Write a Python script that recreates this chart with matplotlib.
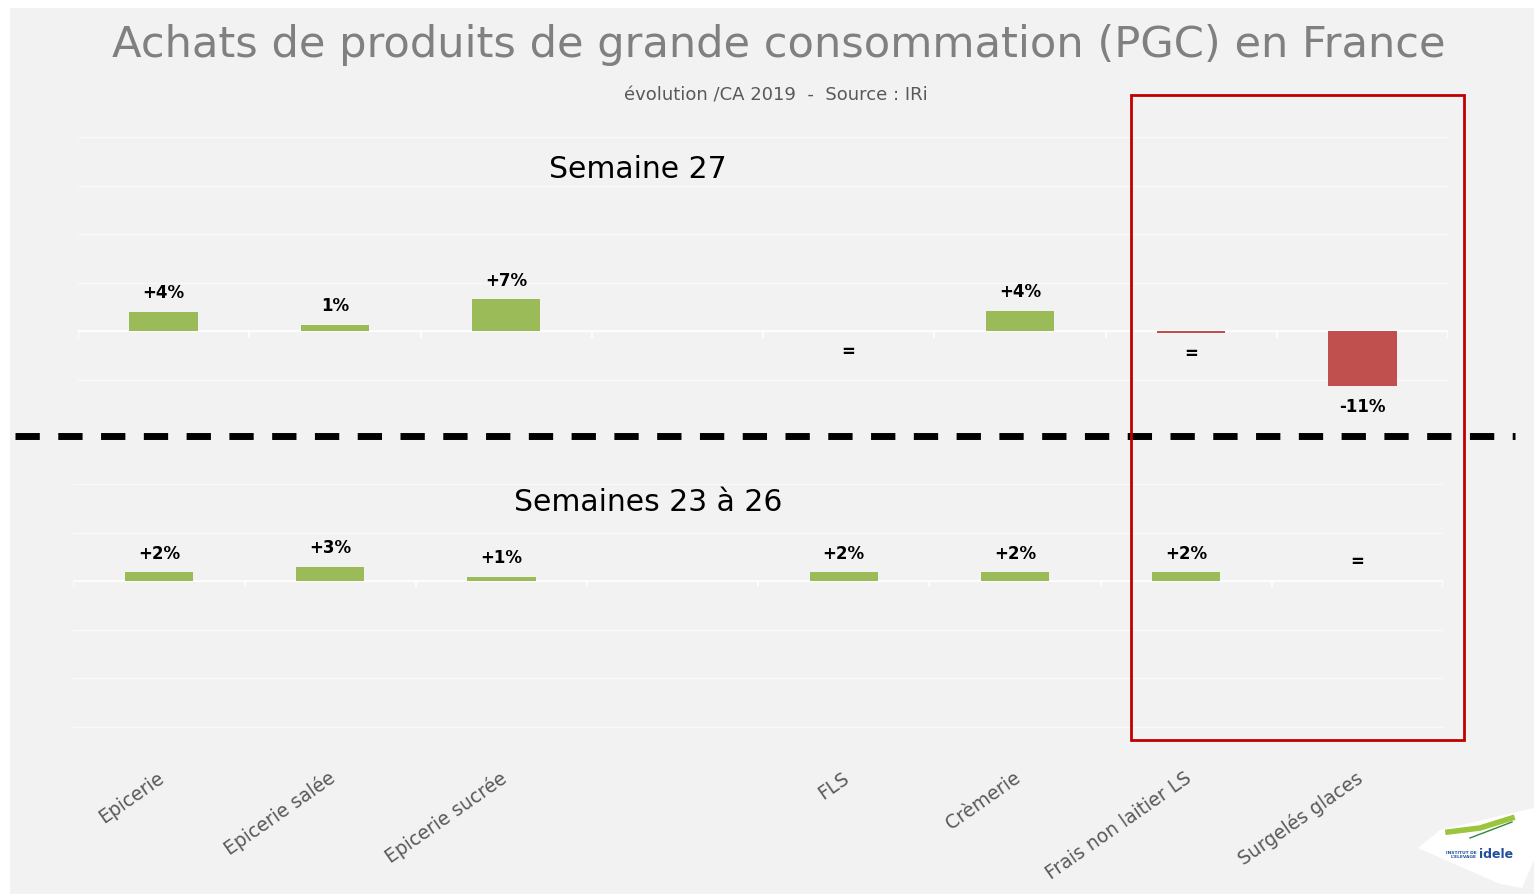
import matplotlib
matplotlib.use('Agg')
import matplotlib.pyplot as plt
import matplotlib.transforms as mtransforms
from matplotlib.patches import Rectangle, Polygon
from matplotlib.lines import Line2D
import numpy as np

W, H = 1534, 894

# data
categories = ['Epicerie', 'Epicerie salée', 'Epicerie sucrée', '', 'FLS',
              'Crèmerie', 'Frais non laitier LS', 'Surgelés glaces']
week27 = [4.0, 1.4, 6.6, np.nan, 0.0, 4.2, -0.3, -11.2]
week27_labels = ['+4%', '1%', '+7%', '', '=', '+4%', '=', '-11%']
weeks23_26 = [1.8, 2.9, 0.9, np.nan, 1.8, 1.8, 1.8, 0.0]
weeks23_26_labels = ['+2%', '+3%', '+1%', '', '+2%', '+2%', '+2%', '=']

GREEN = '#9bbb59'
RED = '#c0504d'
BG = '#f2f2f2'


def fx(x):
    return x / W


def fy(y):
    return 1 - y / H


fig = plt.figure(figsize=(W / 100, H / 100), dpi=100, facecolor='white')
fig.add_artist(Rectangle((fx(10), 0), 1, fy(8), transform=fig.transFigure,
                         facecolor=BG, edgecolor='none', zorder=-10))


def draw_panel(ax, values, labels, ylim, yticks, title, title_xy, zero_below):
    ax.set_facecolor('none')
    for s in ax.spines.values():
        s.set_visible(False)
    x = np.arange(len(values))
    vals = np.array(values, dtype=float)
    ok = ~np.isnan(vals) & (vals != 0)
    colors = [GREEN if v > 0 else RED for v in vals[ok]]
    ax.bar(x[ok], vals[ok], width=0.4, color=colors, zorder=3)
    ax.set_xlim(-0.5, len(values) - 0.5)
    ax.set_ylim(*ylim)
    ax.set_yticks(yticks)
    ax.yaxis.grid(True, color='white', lw=1, alpha=0.55)
    ax.set_axisbelow(True)
    ax.tick_params(left=False, bottom=False, labelleft=False, labelbottom=False)
    ax.axhline(0, color='white', lw=1.3, alpha=0.9, zorder=2)
    ax.vlines(np.arange(len(values) + 1) - 0.5, 0, -1.3, color='white', lw=1.2, zorder=2)
    for xi, v, lab in zip(x, vals, labels):
        if not lab:
            continue
        below = v < 0 or (v == 0 and zero_below)
        off = -15 if below else 13.5
        ax.annotate(lab, (xi, v), xytext=(0, off), textcoords='offset points',
                    ha='center', va='center', fontsize=12, fontweight='bold',
                    color='black', zorder=4)
    fig.text(fx(title_xy[0]), fy(title_xy[1]), title, fontsize=21.5,
             ha='center', va='center', color='black')


ax1 = fig.add_axes([fx(78), fy(428.6), fx(1448) - fx(78), (428.6 - 137) / H])
draw_panel(ax1, week27, week27_labels, (-20, 40), range(-10, 41, 10),
           'Semaine 27', (638, 170), True)

ax2 = fig.add_axes([fx(73.4), fy(729.1), fx(1443) - fx(73.4), (729.1 - 484) / H])
draw_panel(ax2, weeks23_26, weeks23_26_labels, (-30.5, 20), range(-30, 21, 10),
           'Semaines 23 à 26', (648, 502), False)

# category labels
trans = mtransforms.blended_transform_factory(ax2.transData, fig.transFigure)
for i, cat in enumerate(categories):
    if cat:
        ax2.text(i + 0.02, fy(776), cat, transform=trans, rotation=35,
                 rotation_mode='anchor', ha='right', va='center',
                 fontsize=13.5, color='#595959', clip_on=False)

# titles
t = fig.text(fx(779), fy(45), 'Achats de produits de grande consommation (PGC) en France',
             fontsize=30, color='#808080', ha='center', va='center')
fig.text(fx(776), fy(95), 'évolution /CA 2019  -  Source : IRi', fontsize=13,
         color='#595959', ha='center', va='center')
fig.canvas.draw()
bb = t.get_window_extent()
t.set_fontsize(30 * 1334 / bb.width)

# dashed separator
fig.add_artist(Line2D([fx(15), fx(1515)], [fy(436), fy(436)], transform=fig.transFigure,
                      color='black', lw=5, dashes=(3.5, 2.66), zorder=5))

# highlight box
fig.add_artist(Rectangle((fx(1131), fy(740)), fx(1464) - fx(1131), (740 - 95) / H,
                         transform=fig.transFigure, fill=False, edgecolor='#c00000',
                         lw=2, zorder=6))

# logo
fig.add_artist(Polygon([(fx(1418), fy(848)), (fx(1440), fy(830)), (fx(1534), fy(808)),
                        (fx(1534), fy(860)), (fx(1522), fy(888)), (fx(1500), fy(884))],
                       closed=True, transform=fig.transFigure, facecolor='white',
                       edgecolor='none', zorder=6))
fig.add_artist(Line2D([fx(1448), fx(1480), fx(1512)], [fy(832), fy(828), fy(818)],
                      transform=fig.transFigure, color='#9bc53d', lw=4, zorder=7))
fig.add_artist(Line2D([fx(1470), fx(1512)], [fy(838), fy(822)],
                      transform=fig.transFigure, color='#2e8b3a', lw=1, zorder=7))
fig.text(fx(1477), fy(855), "INSTITUT DE\nL'ELEVAGE", fontsize=3.2, color='#1f4e9c',
         ha='right', va='center', fontweight='bold', zorder=7)
fig.text(fx(1479), fy(855), 'idele', fontsize=9, color='#1f4e9c', ha='left',
         va='center', fontweight='bold', zorder=7)

fig.savefig('out.png', dpi=100, facecolor=fig.get_facecolor())
